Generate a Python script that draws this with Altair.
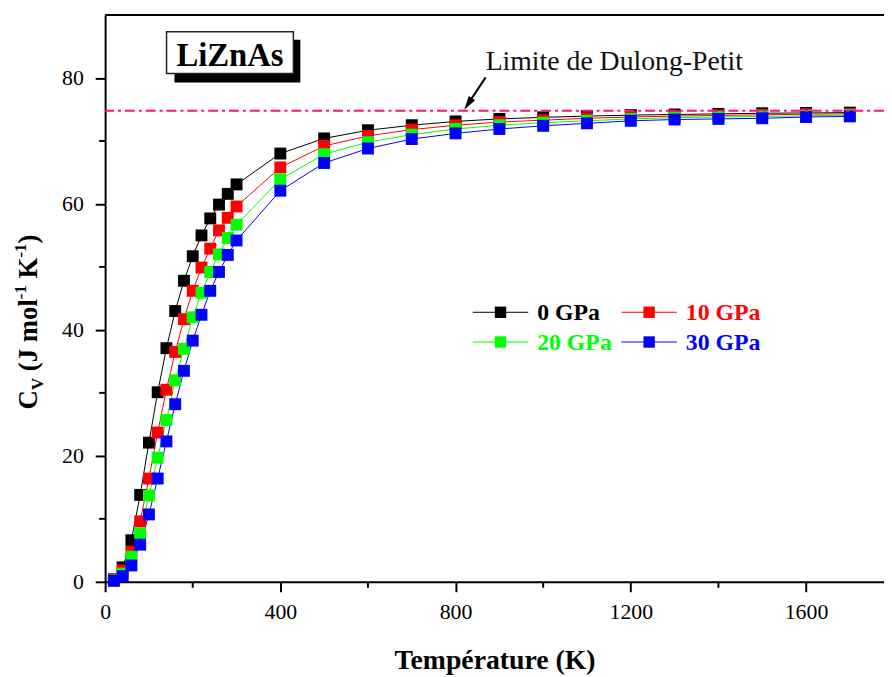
import altair as alt
import pandas as pd

# ---------------- data ----------------
SERIES = ["0 GPa", "10 GPa", "20 GPa", "30 GPa"]
COLORS = ["#000000", "#FF0000", "#00FF00", "#0000FF"]
TEMPS = [20, 40, 60, 80, 100, 120, 140, 160, 180, 200, 220, 240, 260, 280, 300,
         400, 500, 600, 700, 800, 900, 1000, 1100, 1200, 1300, 1400, 1500, 1600, 1700]
CV_0 = [0.4, 2.3, 6.6, 13.8, 22.1, 30.1, 37.1, 43.0, 47.8, 51.7, 55.0, 57.7, 59.9, 61.6, 63.1,
        68.0, 70.4, 71.7, 72.5, 73.1, 73.5, 73.75, 73.95, 74.1, 74.2, 74.3, 74.4, 74.45, 74.5]
CV_10 = [0.3, 1.8, 4.8, 9.6, 16.4, 23.7, 30.5, 36.5, 41.7, 46.2, 49.9, 52.9, 55.8, 57.8, 59.6,
         65.8, 69.2, 70.8, 71.8, 72.5, 73.0, 73.3, 73.6, 73.8, 73.95, 74.05, 74.15, 74.25, 74.3]
CV_20 = [0.2, 1.3, 4.0, 7.7, 13.7, 19.7, 25.7, 32.0, 37.0, 42.0, 45.9, 49.2, 52.0, 54.6, 56.7,
         63.9, 67.9, 69.8, 71.0, 71.9, 72.5, 72.9, 73.2, 73.5, 73.7, 73.8, 73.9, 74.0, 74.1]
CV_30 = [0.15, 0.9, 2.6, 5.9, 10.7, 16.4, 22.3, 28.2, 33.5, 38.3, 42.4, 46.2, 49.2, 51.9, 54.2,
         62.1, 66.5, 68.8, 70.3, 71.2, 71.9, 72.4, 72.8, 73.2, 73.4, 73.5, 73.6, 73.8, 73.9]
DULONG_PETIT = [74.8]
X_MAJOR = [0, 400, 800, 1200, 1600]
X_MINOR = [200, 600, 1000, 1400]
Y_MAJOR = [0, 20, 40, 60, 80]
Y_MINOR = [10, 30, 50, 70]
TITLE_TEXT = "LiZnAs"
NOTE_TEXT = "Limite de Dulong-Petit"
X_TITLE = "Température (K)"
Y_TITLE_PARTS = ["C", "V", "(J mol", "-1", "K", "-1", ")"]

rows = []
for name, vals in zip(SERIES, [CV_0, CV_10, CV_20, CV_30]):
    for t, v in zip(TEMPS, vals):
        rows.append({"T": t, "Cv": v, "series": name})
df = pd.DataFrame(rows)

# ---------------- layout / style ----------------
W, H = 786, 572
XMAX = 1778
SERIF = "Liberation Serif"
MAJOR, MINOR = 10, 6
PINK = "#FF1080"

x_scale = alt.Scale(domain=[0, XMAX], nice=False, zero=False)
y_scale = alt.Scale(domain=[0, 90], nice=False)
c_scale = alt.Scale(domain=SERIES, range=COLORS)
ONE = pd.DataFrame({"_": [0]})

x_enc = alt.X("T:Q", scale=x_scale, axis=alt.Axis(
    values=X_MAJOR, format="d", tickSize=MAJOR, labelPadding=10,
    title=X_TITLE, titleFont=SERIF, titleFontSize=28, titleFontWeight="bold",
    titleY=87, titleBaseline="alphabetic"))
y_enc = alt.Y("Cv:Q", scale=y_scale, axis=alt.Axis(
    values=Y_MAJOR, format="d", tickSize=MAJOR, labelPadding=12, title=None))

lines = alt.Chart(df).mark_line(strokeWidth=1).encode(
    x=x_enc, y=y_enc,
    color=alt.Color("series:N", scale=c_scale, legend=None),
    order="T:Q")
points = alt.Chart(df).mark_square(size=144, opacity=1).encode(
    x=alt.X("T:Q", scale=x_scale), y=alt.Y("Cv:Q", scale=y_scale),
    color=alt.Color("series:N", scale=c_scale, legend=None))

minor_x = alt.Chart(pd.DataFrame({"T": X_MINOR})).mark_rule(color="black", strokeWidth=2).encode(
    x=alt.X("T:Q", scale=x_scale), y=alt.value(H), y2=alt.value(H + MINOR))
minor_y = alt.Chart(pd.DataFrame({"Cv": Y_MINOR})).mark_rule(color="black", strokeWidth=2).encode(
    y=alt.Y("Cv:Q", scale=y_scale), x=alt.value(0), x2=alt.value(-MINOR))
top_frame = alt.Chart(ONE).mark_rule(color="black", strokeWidth=2).encode(y=alt.value(0))

dp_line = alt.Chart(pd.DataFrame({"Cv": DULONG_PETIT})).mark_rule(
    color=PINK, strokeWidth=2, strokeDash=[10, 4, 3, 4]).encode(y=alt.Y("Cv:Q", scale=y_scale))

layers = [top_frame, minor_x, minor_y, lines, points, dp_line]

# arrow + note
layers.append(alt.Chart(ONE).mark_rule(color="black", strokeWidth=2).encode(
    x=alt.value(384), y=alt.value(63), x2=alt.value(366), y2=alt.value(90)))
layers.append(alt.Chart(ONE).mark_point(
    shape="M0,-1L0.55,1L-0.55,1Z", filled=True, color="black", opacity=1, size=196, angle=213.7).encode(
    x=alt.value(366.3), y=alt.value(89.7)))
layers.append(alt.Chart(ONE).mark_text(
    text=NOTE_TEXT, font=SERIF, fontSize=28, align="left", baseline="alphabetic", color="#111").encode(
    x=alt.value(384), y=alt.value(56)))

# title box with shadow
layers.append(alt.Chart(ONE).mark_rect(color="black").encode(
    x=alt.value(70), x2=alt.value(197), y=alt.value(25), y2=alt.value(68)))
layers.append(alt.Chart(ONE).mark_rect(fill="white", stroke="#222", strokeWidth=1.5).encode(
    x=alt.value(62), x2=alt.value(190), y=alt.value(17), y2=alt.value(59)))
layers.append(alt.Chart(ONE).mark_text(
    text=TITLE_TEXT, font=SERIF, fontSize=33, fontWeight="bold", align="center",
    baseline="alphabetic", color="black").encode(x=alt.value(126), y=alt.value(51)))

# manual legend (2 x 2)
LEG_ROWS = [300, 330]
LEG_COLS = [371, 521]
for i, (name, col) in enumerate(zip(SERIES, COLORS)):
    lx = LEG_COLS[i % 2]
    ly = LEG_ROWS[i // 2]
    layers.append(alt.Chart(ONE).mark_rule(color=col, strokeWidth=1).encode(
        x=alt.value(lx), x2=alt.value(lx + 56), y=alt.value(ly)))
    layers.append(alt.Chart(ONE).mark_square(color=col, size=132, opacity=1).encode(
        x=alt.value(lx + 28), y=alt.value(ly)))
    layers.append(alt.Chart(ONE).mark_text(
        text=name, font=SERIF, fontSize=24, fontWeight="bold", align="left",
        baseline="alphabetic", color=col).encode(x=alt.value(lx + 65), y=alt.value(ly + 8)))

# y-axis title built from pieces (subscript / superscripts), rotated
F, f = 27, 17
BX = -69
SPACE = 0.25 * F
# (font size, baseline shift, advance width in em, extra gap after)
specs = [(F, 0, 0.722, 0), (f, 6, 0.722, SPACE), (F, 0, 2.694, 0), (f, -11, 0.833, SPACE),
         (F, 0, 0.778, 0), (f, -11, 0.833, 0), (F, 0, 0.333, 0)]
ypos = 398
for txt, (size, shift, em, gap) in zip(Y_TITLE_PARTS, specs):
    layers.append(alt.Chart(ONE).mark_text(
        text=txt, font=SERIF, fontSize=size, fontWeight="bold", angle=270, align="left",
        baseline="alphabetic", color="black").encode(x=alt.value(BX + shift), y=alt.value(ypos)))
    ypos -= em * size + gap

chart = alt.layer(*layers).properties(
    width=W, height=H,
    autosize=alt.AutoSizeParams(type="none"),
    padding={"left": 98, "top": 4, "right": 0, "bottom": 93},
    background="white",
).configure_view(stroke=None).configure_axis(
    grid=False, domainColor="black", domainWidth=2, tickColor="black", tickWidth=2,
    labelFont=SERIF, labelFontSize=22, labelColor="black", labelFlush=False,
    labelOverlap=False, titleColor="black")

chart.save("out.html", embed_options={"renderer": "svg", "actions": False})
